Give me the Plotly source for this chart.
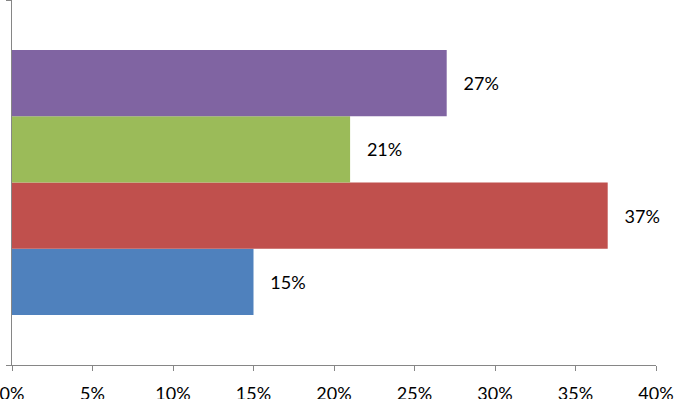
import plotly.graph_objects as go

series_names = ["Series 1", "Series 2", "Series 3", "Series 4"]
values = [15, 37, 21, 27]
colors = ["#4F81BD", "#C0504D", "#9BBB59", "#8064A2"]
tick_vals = [0, 5, 10, 15, 20, 25, 30, 35, 40]
tick_text = [f"{v}%" for v in tick_vals]

FONT = "Lato"
FS = 18

fig = go.Figure()
for name, v, c in zip(series_names, values, colors):
    fig.add_trace(go.Bar(
        y=[0], x=[v], name=name, orientation="h",
        marker=dict(color=c, line=dict(width=0)),
        text=[f"   {v}%"], textposition="outside",
        textfont=dict(family=FONT, size=FS, color="#000000"),
        cliponaxis=False,
    ))

fig.update_layout(
    width=674, height=399,
    margin=dict(l=12, r=18, t=0, b=34),
    paper_bgcolor="white", plot_bgcolor="white",
    barmode="group", bargap=0.274, bargroupgap=0,
    showlegend=False,
    font=dict(family=FONT, size=FS, color="#000000"),
)
fig.update_xaxes(
    range=[0, 40], tickvals=tick_vals, ticktext=tick_text,
    showgrid=False, zeroline=False, automargin=False,
    showline=True, linecolor="#868686", linewidth=1,
    ticks="outside", ticklen=5, tickcolor="#868686",
    ticklabelstandoff=7, ticklabeloverflow="allow",
    tickfont=dict(family=FONT, size=FS, color="#000000"),
)
fig.update_yaxes(
    range=[-0.5, 0.5], tickvals=[-0.5, 0.5], showticklabels=False,
    showgrid=False, zeroline=False, automargin=False,
    showline=True, linecolor="#868686", linewidth=1,
    ticks="outside", ticklen=5, tickcolor="#868686",
)
fig.write_html(
    "out.html",
    config={"displayModeBar": False},
    post_script="document.body.style.margin='0';document.body.style.overflow='hidden';",
)
